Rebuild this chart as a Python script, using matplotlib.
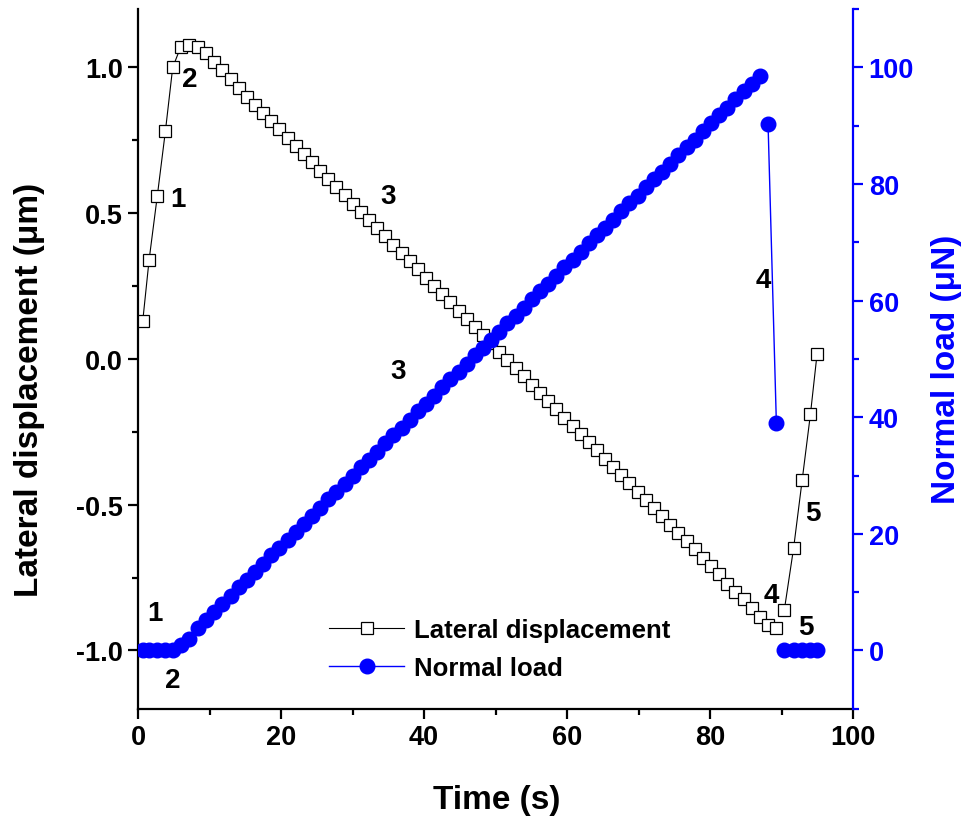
import matplotlib.pyplot as plt
from matplotlib.ticker import MultipleLocator

plt.rcParams["font.family"] = ["Liberation Sans", "DejaVu Sans"]
plt.rcParams["font.weight"] = "bold"
plt.rcParams["axes.unicode_minus"] = False

# time stamps (s)
time = [
    0.66, 1.55, 2.70, 3.82, 4.85, 5.97, 7.13, 8.39, 9.53, 10.67,
    11.80, 12.94, 14.08, 15.22, 16.36, 17.49, 18.63, 19.77, 20.91, 22.05,
    23.18, 24.32, 25.46, 26.60, 27.74, 28.87, 30.01, 31.15, 32.29, 33.43,
    34.56, 35.70, 36.84, 37.98, 39.12, 40.25, 41.39, 42.53, 43.67, 44.81,
    45.94, 47.08, 48.22, 49.36, 50.50, 51.63, 52.77, 53.91, 55.05, 56.19,
    57.32, 58.46, 59.60, 60.74, 61.88, 63.01, 64.15, 65.29, 66.43, 67.57,
    68.70, 69.84, 70.98, 72.12, 73.26, 74.39, 75.53, 76.67, 77.81, 78.95,
    80.08, 81.22, 82.36, 83.50, 84.64, 85.77, 86.91, 88.07, 89.23, 90.35,
    91.65, 92.83, 93.99, 94.92,
]

# lateral displacement (um)
lateral = [
    0.13, 0.34, 0.56, 0.78, 1.00, 1.07, 1.075, 1.07, 1.05, 1.02,
    0.99, 0.96, 0.93, 0.90, 0.872, 0.843, 0.815, 0.787, 0.759, 0.730,
    0.702, 0.674, 0.646, 0.618, 0.589, 0.561, 0.533, 0.505, 0.476, 0.448,
    0.420, 0.392, 0.363, 0.335, 0.307, 0.279, 0.250, 0.222, 0.194, 0.166,
    0.138, 0.109, 0.081, 0.053, 0.025, -0.004, -0.032, -0.060, -0.088, -0.117,
    -0.145, -0.173, -0.201, -0.230, -0.258, -0.286, -0.314, -0.343, -0.371, -0.399,
    -0.427, -0.455, -0.484, -0.512, -0.540, -0.568, -0.597, -0.625, -0.653, -0.682,
    -0.710, -0.739, -0.771, -0.800, -0.825, -0.856, -0.886, -0.911, -0.923, -0.86,
    -0.647, -0.417, -0.19, 0.017,
]

# normal load (uN)
load = [
    0, 0, 0, 0, 0, 1.0, 1.9, 3.9, 5.3, 6.6,
    8.0, 9.4, 10.8, 12.1, 13.5, 14.9, 16.3, 17.6, 19.0, 20.4,
    21.7, 23.1, 24.5, 25.9, 27.2, 28.6, 30.0, 31.4, 32.7, 34.1,
    35.5, 36.9, 38.2, 39.6, 41.0, 42.3, 43.7, 45.1, 46.5, 47.8,
    49.2, 50.6, 51.9, 53.3, 54.7, 56.1, 57.4, 58.8, 60.2, 61.6,
    62.9, 64.3, 65.7, 67.0, 68.4, 69.8, 71.2, 72.5, 73.9, 75.3,
    76.7, 78.0, 79.4, 80.8, 82.1, 83.5, 84.9, 86.3, 87.6, 89.0,
    90.4, 91.8, 93.1, 94.5, 95.9, 97.2, 98.6, 90.2, 39.0, 0,
    0, 0, 0, 0,
]

# where the connecting lines break
lateral_segments = [(0, 79), (79, 84)]
load_segments = [(0, 77), (77, 79), (79, 84)]

# stage labels: (text, time, lateral value)
stage_labels = [
    ("1", 5.6, 0.55), ("2", 7.3, 0.96), ("3", 35.0, 0.56), ("3", 36.4, -0.04),
    ("4", 87.4, 0.27), ("4", 88.5, -0.81), ("5", 94.3, -0.53), ("5", 93.4, -0.92),
    ("1", 2.4, -0.87), ("2", 4.8, -1.10),
]

blue = "#0000ff"

fig = plt.figure(figsize=(9.72, 8.37), dpi=100)
ax = fig.add_axes([0.142, 0.152, 0.736, 0.836])
ax2 = ax.twinx()

for k, (a, b) in enumerate(lateral_segments):
    ax.plot(time[a:b], lateral[a:b], color="black", linewidth=0.8,
            marker="s", markersize=8.5, markerfacecolor="white",
            markeredgecolor="black", markeredgewidth=0.9,
            label="Lateral displacement" if k == 0 else None)

for k, (a, b) in enumerate(load_segments):
    ax2.plot(time[a:b], load[a:b], color=blue, linewidth=1.0,
             marker="o", markersize=10.5, markerfacecolor=blue,
             markeredgecolor=blue,
             label="Normal load" if k == 0 else None)

for txt, tx, ty in stage_labels:
    ax.text(tx, ty, txt, fontsize=20, fontweight="bold", ha="center", va="center")

ax.set_xlim(0, 100)
ax.set_ylim(-1.2, 1.2)
ax2.set_ylim(-10, 110)

ax.xaxis.set_major_locator(MultipleLocator(20))
ax.xaxis.set_minor_locator(MultipleLocator(10))
ax.yaxis.set_major_locator(MultipleLocator(0.5))
ax.yaxis.set_minor_locator(MultipleLocator(0.25))
ax2.yaxis.set_major_locator(MultipleLocator(20))
ax2.yaxis.set_minor_locator(MultipleLocator(10))

ax.set_xticks([0, 20, 40, 60, 80, 100])
ax.set_xticklabels(["0", "20", "40", "60", "80", "100"])

for a in (ax, ax2):
    a.spines["top"].set_visible(False)
    for s in a.spines.values():
        s.set_linewidth(1.6)
ax.spines["right"].set_visible(False)
ax2.spines["left"].set_visible(False)
ax2.spines["bottom"].set_visible(False)
ax2.spines["right"].set_color(blue)

ax.tick_params(which="major", direction="out", length=7, width=1.6,
               labelsize=19.5, pad=4)
ax.tick_params(which="minor", direction="out", length=4, width=1.6)
ax2.tick_params(which="major", direction="out", length=7, width=1.6,
                labelsize=19.5, colors=blue, labelcolor=blue, pad=4)
ax2.tick_params(which="minor", direction="out", length=4, width=1.6, colors=blue)
for lab in ax.get_xticklabels() + ax.get_yticklabels() + ax2.get_yticklabels():
    lab.set_fontweight("bold")

ax.set_xlabel("Time (s)", fontsize=24, fontweight="bold")
ax.set_ylabel("Lateral displacement (μm)", fontsize=24, fontweight="bold")
ax2.set_ylabel("Normal load (μN)", fontsize=24, fontweight="bold", color=blue)
ax.xaxis.set_label_coords(0.502, -0.107)
ax.yaxis.set_label_coords(-0.130, 0.457)
ax2.yaxis.set_label_coords(1.108, 0.486)

h1, l1 = ax.get_legend_handles_labels()
h2, l2 = ax2.get_legend_handles_labels()
leg = ax2.legend(h1 + h2, l1 + l2, loc="lower left",
                 bbox_to_anchor=(0.235, 0.008), frameon=False,
                 prop={"size": 18.5, "weight": "bold"},
                 handlelength=2.9, handletextpad=0.4, labelspacing=0.55)

fig.savefig("out.png", dpi=100)
